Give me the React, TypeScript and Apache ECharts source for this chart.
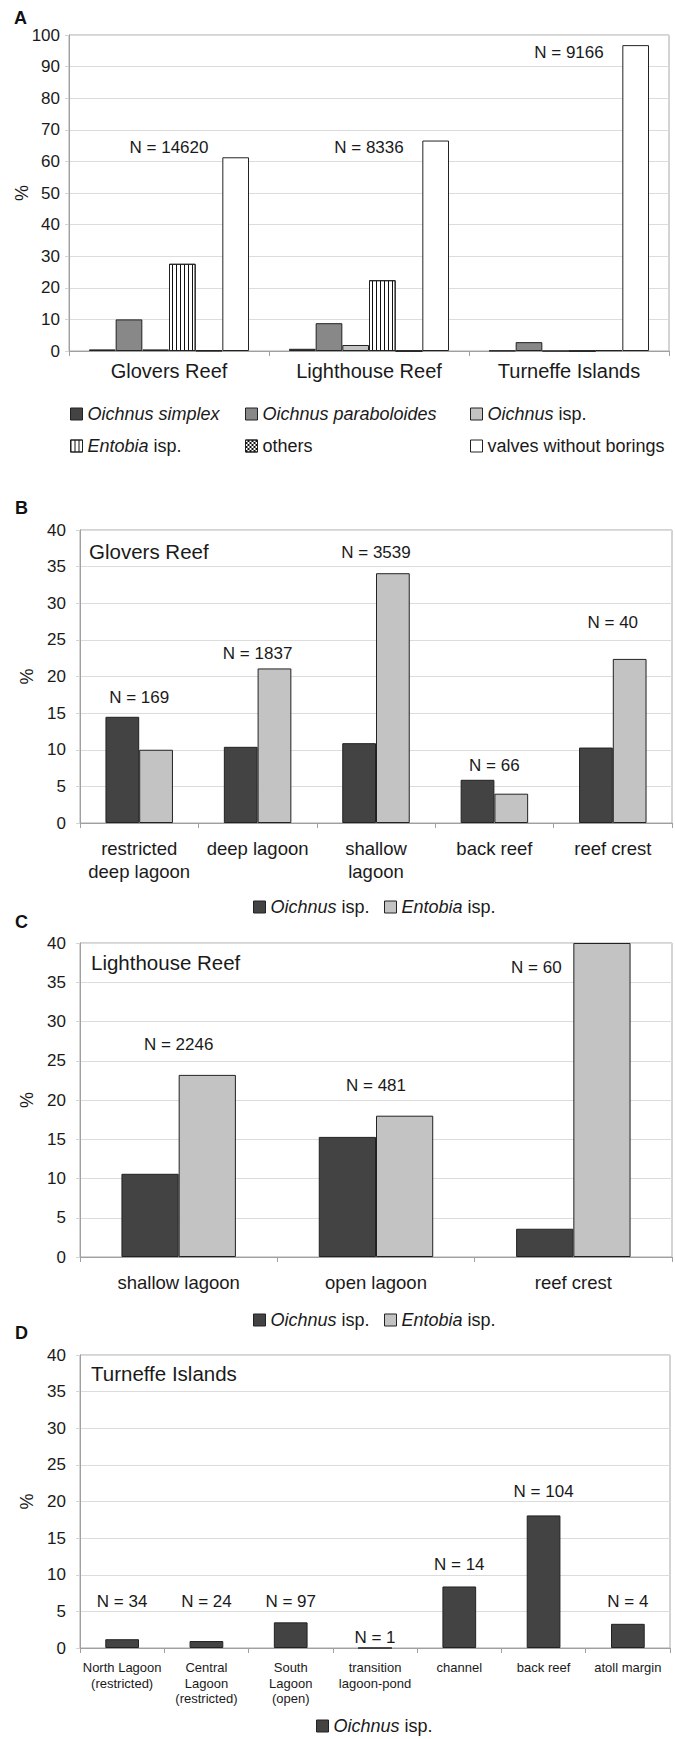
import React, { useEffect, useRef } from 'react';
import * as echarts from 'echarts';

const FONT = '"Liberation Sans", Arial, Helvetica, sans-serif';

// ---------- Panel A ----------
const catsA = ['Glovers Reef', 'Lighthouse Reef', 'Turneffe Islands'];
const simplexA = [0.5, 0.7, 0.1];
const paraboloidesA = [10.0, 8.8, 2.8];
const oichnusIspA = [0.5, 1.9, 0];
const entobiaA = [27.6, 22.4, 0];
const othersA = [0.2, 0, 0.3];
const valvesA = [61.3, 66.6, 96.8];
const nTextA = ['N = 14620', 'N = 8336', 'N = 9166'];
const nPosA = [64.5, 64.5, 94.4];

// ---------- Panel B (Glovers Reef) ----------
const catsB = ['restricted\ndeep lagoon', 'deep lagoon', 'shallow\nlagoon', 'back reef', 'reef crest'];
const oichnusB = [14.5, 10.4, 10.9, 5.9, 10.3];
const entobiaB = [10.0, 21.1, 34.1, 4.0, 22.4];
const nTextB = ['N = 169', 'N = 1837', 'N = 3539', 'N = 66', 'N = 40'];
const nPosB = [17.1, 23.1, 36.9, 7.8, 27.4];

// ---------- Panel C (Lighthouse Reef) ----------
const catsC = ['shallow lagoon', 'open lagoon', 'reef crest'];
const oichnusC = [10.6, 15.3, 3.6];
const entobiaC = [23.2, 18.0, 40.0];
const nTextC = ['N = 2246', 'N = 481', 'N = 60'];
const nPosC = [27.1, 21.9, 36.9];

// ---------- Panel D (Turneffe Islands) ----------
const catsD = [
  'North Lagoon\n(restricted)',
  'Central\nLagoon\n(restricted)',
  'South\nLagoon\n(open)',
  'transition\nlagoon-pond',
  'channel',
  'back reef',
  'atoll margin',
];
const oichnusD = [1.2, 0.95, 3.5, 0, 8.4, 18.1, 3.3];
const nTextD = ['N = 34', 'N = 24', 'N = 97', 'N = 1', 'N = 14', 'N = 104', 'N = 4'];
const nPosD = [6.3, 6.3, 6.3, 1.4, 11.4, 21.4, 6.3];

const yMaxA = 100;
const yStepA = 10;
const yMaxBCD = 40;
const yStepBCD = 5;

const legendText: Record<string, string> = {
  A_simplex: '{i|Oichnus simplex}',
  A_parab: '{i|Oichnus paraboloides}',
  A_isp: '{i|Oichnus} isp.',
  A_ent: '{i|Entobia} isp.',
  A_oth: 'others',
  A_val: 'valves without borings',
  B_oich: '{i|Oichnus} isp.',
  B_ent: '{i|Entobia} isp.',
  C_oich: '{i|Oichnus} isp.',
  C_ent: '{i|Entobia} isp.',
  D_oich: '{i|Oichnus} isp.',
};

const TXT = '#1a1a1a';
const DARK = '#434343';
const MID = '#888888';
const LIGHT = '#c3c3c3';
const EDGE = '#222222';

const stripeDecal = {
  symbol: 'rect',
  symbolSize: 1,
  symbolKeepAspect: false,
  dashArrayX: [1, 3],
  dashArrayY: [4, 0],
  color: '#111',
  backgroundColor: '#fff',
};
const checkerDecal = {
  symbol: 'rect',
  symbolSize: 1,
  symbolKeepAspect: false,
  dashArrayX: [[2, 2], [0, 2, 2, 0]],
  dashArrayY: [2, 0],
  color: '#111',
  backgroundColor: '#fff',
};

function buildOption() {
  const gridDefs = [
    { left: 69, top: 35, width: 600, height: 316 },
    { left: 80, top: 530, width: 592, height: 293 },
    { left: 80, top: 943, width: 592, height: 314 },
    { left: 80, top: 1355, width: 590, height: 293 },
  ];
  const grid = gridDefs.map((g) => ({
    ...g,
    show: true,
    borderColor: '#a8a8a8',
    borderWidth: 1,
    backgroundColor: 'transparent',
    containLabel: false,
    outerBoundsMode: 'none',
  }));

  const xAxis = (gi: number, cats: string[], fontSize: number, lineHeight: number, margin: number) => ({
    type: 'category',
    gridIndex: gi,
    data: cats,
    axisLine: { show: true, lineStyle: { color: '#a0a0a0', width: 1 } },
    axisTick: { show: true, length: 5, lineStyle: { color: '#a0a0a0' } },
    axisLabel: { interval: 0, color: TXT, fontFamily: FONT, fontSize, lineHeight, margin, hideOverlap: false },
    splitLine: { show: false },
  });

  const yAxis = (gi: number, max: number, step: number, margin: number, nameGap: number) => ({
    type: 'value',
    gridIndex: gi,
    min: 0,
    max,
    interval: step,
    name: '%',
    nameLocation: 'middle',
    nameGap,
    nameRotate: 90,
    nameMoveOverlap: false,
    nameTextStyle: { fontFamily: FONT, fontSize: 18, color: TXT },
    axisLine: { show: true, lineStyle: { color: '#a0a0a0' } },
    axisTick: { show: true, length: 4, lineStyle: { color: '#d4d4d4' } },
    axisLabel: { color: TXT, fontFamily: FONT, fontSize: 17, margin },
    splitLine: { show: true, lineStyle: { color: '#dcdcdc', width: 1 } },
  });

  const bar = (name: string, gi: number, data: number[], color: string, gap: string, extra: any = {}) => ({
    type: 'bar',
    name,
    xAxisIndex: gi,
    yAxisIndex: gi,
    data,
    barGap: '0%',
    barCategoryGap: gap,
    itemStyle: { color, borderColor: EDGE, borderWidth: 1, ...extra },
    emphasis: { disabled: true },
  });

  const annot = (gi: number, texts: string[], ys: number[], offsets: Record<number, number> = {}) => ({
    type: 'scatter',
    xAxisIndex: gi,
    yAxisIndex: gi,
    symbolSize: 0.1,
    itemStyle: { color: 'transparent', opacity: 1 },
    silent: true,
    z: 10,
    data: texts.map((t, i) => ({
      value: [i, ys[i]],
      name: t,
      label: offsets[i] ? { offset: [offsets[i], 0] } : undefined,
    })),
    label: {
      show: true,
      position: 'inside',
      formatter: '{b}',
      color: TXT,
      textBorderWidth: 0,
      opacity: 1,
      fontFamily: FONT,
      fontSize: 17,
    },
  });

  const legendItem = (name: string, left: number, top: number) => ({
    data: [name],
    left,
    top,
    padding: 0,
    itemWidth: 12,
    itemHeight: 12,
    icon: 'rect',
    selectedMode: false,
    formatter: (n: string) => legendText[n],
    itemStyle: { borderColor: EDGE, borderWidth: 1 },
    textStyle: {
      fontFamily: FONT,
      fontSize: 18,
      color: TXT,
      lineHeight: 20,
      rich: { i: { fontStyle: 'italic', fontFamily: FONT, fontSize: 18, color: TXT, lineHeight: 20 } },
    },
  });

  const label = (text: string, x: number, y: number, size: number, bold = false) => ({
    type: 'text',
    x,
    y,
    silent: true,
    style: {
      text,
      fill: bold ? '#111' : TXT,
      fontFamily: FONT,
      fontSize: size,
      fontWeight: bold ? 'bold' : 'normal',
      verticalAlign: 'middle',
    },
  });

  return {
    animation: false,
    backgroundColor: '#ffffff',
    textStyle: { fontFamily: FONT },
    grid,
    xAxis: [
      xAxis(0, catsA, 20, 22, 9),
      xAxis(1, catsB, 18.5, 23, 14),
      xAxis(2, catsC, 18.5, 23, 14),
      xAxis(3, catsD, 13, 15.5, 12),
    ],
    yAxis: [
      yAxis(0, yMaxA, yStepA, 9, 38),
      yAxis(1, yMaxBCD, yStepBCD, 14, 44),
      yAxis(2, yMaxBCD, yStepBCD, 14, 44),
      yAxis(3, yMaxBCD, yStepBCD, 14, 44),
    ],
    legend: [
      legendItem('A_simplex', 70, 404),
      legendItem('A_parab', 245, 404),
      legendItem('A_isp', 470, 404),
      legendItem('A_ent', 70, 436),
      legendItem('A_oth', 245, 436),
      legendItem('A_val', 470, 436),
      legendItem('B_oich', 253, 897),
      legendItem('B_ent', 384, 897),
      legendItem('C_oich', 253, 1310),
      legendItem('C_ent', 384, 1310),
      legendItem('D_oich', 316, 1716),
    ],
    series: [
      bar('A_simplex', 0, simplexA, DARK, '20%'),
      bar('A_parab', 0, paraboloidesA, MID, '20%'),
      bar('A_isp', 0, oichnusIspA, LIGHT, '20%'),
      bar('A_ent', 0, entobiaA, '#ffffff', '20%', { decal: stripeDecal }),
      bar('A_oth', 0, othersA, '#ffffff', '20%', { decal: checkerDecal }),
      bar('A_val', 0, valvesA, '#ffffff', '20%'),
      annot(0, nTextA, nPosA),
      bar('B_oich', 1, oichnusB, DARK, '43%'),
      bar('B_ent', 1, entobiaB, LIGHT, '43%'),
      annot(1, nTextB, nPosB),
      bar('C_oich', 2, oichnusC, DARK, '42%'),
      bar('C_ent', 2, entobiaC, LIGHT, '42%'),
      annot(2, nTextC, nPosC, { 2: -37 }),
      bar('D_oich', 3, oichnusD, DARK, '60%'),
      annot(3, nTextD, nPosD),
    ],
    graphic: [
      label('A', 14, 18, 18, true),
      label('B', 15, 508, 18, true),
      label('C', 15, 922, 18, true),
      label('D', 15, 1333, 18, true),
      label('Glovers Reef', 89, 551, 20.5),
      label('Lighthouse Reef', 91, 962, 20.5),
      label('Turneffe Islands', 91, 1373, 20.5),
    ],
  };
}

export default function App() {
  const ref = useRef<HTMLDivElement>(null);
  useEffect(() => {
    if (!ref.current) return;
    const chart = echarts.init(ref.current, null, { renderer: 'svg' });
    chart.setOption(buildOption() as any);
    return () => {
      chart.dispose();
    };
  }, []);
  return (
    <div
      ref={ref}
      style={{ position: 'absolute', left: 0, top: 0, width: 675, height: 1739, background: '#fff' }}
    />
  );
}
